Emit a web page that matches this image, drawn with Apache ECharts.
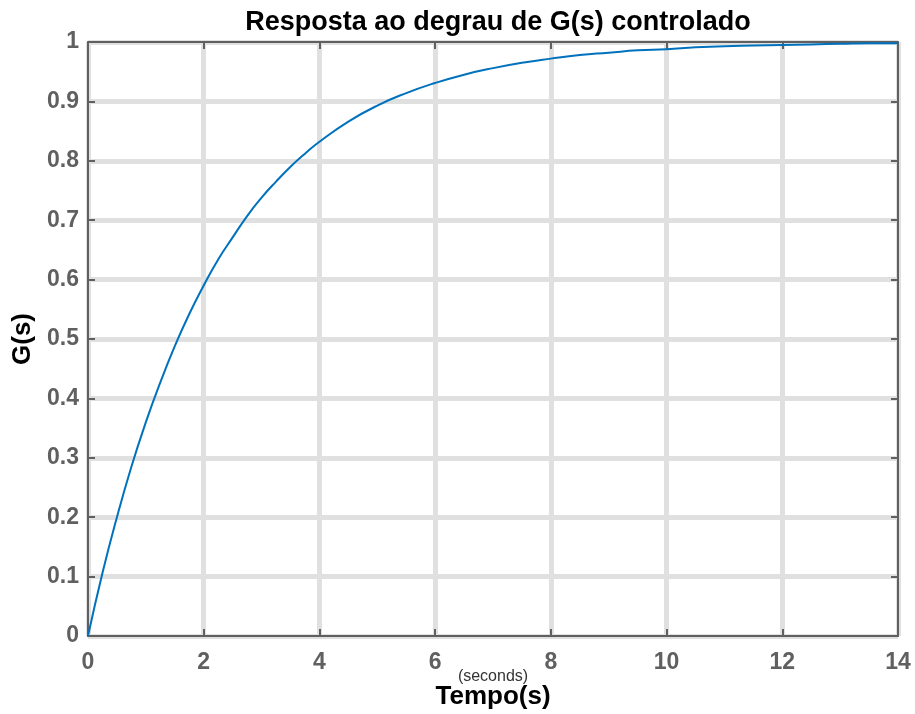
<!DOCTYPE html>
<html>
<head>
<meta charset="utf-8">
<script src="https://cdn.jsdelivr.net/npm/echarts@6/dist/echarts.min.js"></script>
<style>
  html, body { margin: 0; padding: 0; background: #fff; }
  #chart { width: 915px; height: 714px; }
</style>
</head>
<body>
<div id="chart"></div>
<script>
// Step response samples of the controlled plant
const timeSeconds = [0, 0.25, 0.5, 0.75, 1, 1.25, 1.5, 1.75, 2, 2.25, 2.5, 2.75, 3, 3.25, 3.5, 3.75, 4, 4.5, 5, 5.5, 6, 6.5, 7, 7.5, 8, 8.5, 9, 9.5, 10, 10.5, 11, 11.5, 12, 12.5, 13, 13.5, 14];
const response = [0, 0.106, 0.200, 0.285, 0.360, 0.427, 0.488, 0.542, 0.590, 0.634, 0.671, 0.707, 0.738, 0.765, 0.790, 0.812, 0.832, 0.866, 0.893, 0.914, 0.931, 0.945, 0.956, 0.965, 0.972, 0.978, 0.982, 0.986, 0.988, 0.991, 0.993, 0.994, 0.995, 0.996, 0.997, 0.998, 0.998];

const xTicks = [0, 2, 4, 6, 8, 10, 12, 14];
const yTicks = [0, 0.1, 0.2, 0.3, 0.4, 0.5, 0.6, 0.7, 0.8, 0.9, 1];

const FONT = '"Liberation Sans", Arial, Helvetica, sans-serif';
const AXIS_GRAY = '#606060';
const GRID_GRAY = '#e0e0e0';

const points = timeSeconds.map((t, i) => [t, response[i]]);

const chart = echarts.init(document.getElementById('chart'), null, { renderer: 'canvas' });

const axisCommon = {
  axisLine: { show: true, onZero: false, lineStyle: { color: AXIS_GRAY, width: 2 } },
  axisTick: { show: true, inside: true, length: 7, lineStyle: { color: AXIS_GRAY, width: 2 } },
};

chart.setOption({
  backgroundColor: '#ffffff',
  animation: false,
  title: {
    text: 'Resposta ao degrau de G(s) controlado',
    left: 493,
    textAlign: 'center',
    top: 4,
    textStyle: { fontFamily: FONT, fontSize: 27, fontWeight: 'bold', color: '#000' }
  },
  // x-axis caption: units line above the bold axis title
  graphic: [
    {
      type: 'text', x: 493, y: 677,
      style: { text: '(seconds)', fontFamily: FONT, fontSize: 16, fill: '#333', align: 'center', verticalAlign: 'middle' }
    },
    {
      type: 'text', x: 493, y: 697,
      style: { text: 'Tempo(s)', fontFamily: FONT, fontSize: 26, fontWeight: 'bold', fill: '#000', align: 'center', verticalAlign: 'middle' }
    }
  ],
  grid: { left: 88, right: 17, top: 42, bottom: 78, containLabel: false, outerBoundsMode: 'none' },
  xAxis: [
    Object.assign({
      type: 'value',
      position: 'bottom',
      min: xTicks[0],
      max: xTicks[xTicks.length - 1],
      interval: 2,
      axisLabel: { fontFamily: FONT, fontSize: 23, fontWeight: 'bold', color: AXIS_GRAY, margin: 15 },
      splitLine: { show: true, lineStyle: { color: GRID_GRAY, width: 5 } }
    }, axisCommon),
    Object.assign({
      type: 'value',
      position: 'top',
      min: xTicks[0],
      max: xTicks[xTicks.length - 1],
      interval: 2,
      axisLabel: { show: false },
      splitLine: { show: false }
    }, axisCommon)
  ],
  yAxis: [
    Object.assign({
      type: 'value',
      position: 'left',
      min: yTicks[0],
      max: yTicks[yTicks.length - 1],
      interval: 0.1,
      name: 'G(s)',
      nameLocation: 'middle',
      nameGap: 49,
      nameRotate: 90,
      nameTextStyle: { fontFamily: FONT, fontSize: 26, fontWeight: 'bold', color: '#000' },
      axisLabel: {
        fontFamily: FONT, fontSize: 23, fontWeight: 'bold', color: AXIS_GRAY, margin: 9,
        formatter: v => String(Math.round(v * 10) / 10)
      },
      splitLine: { show: true, lineStyle: { color: GRID_GRAY, width: 5 } }
    }, axisCommon),
    Object.assign({
      type: 'value',
      position: 'right',
      min: yTicks[0],
      max: yTicks[yTicks.length - 1],
      interval: 0.1,
      axisLabel: { show: false },
      splitLine: { show: false }
    }, axisCommon)
  ],
  series: [{
    type: 'line',
    data: points,
    xAxisIndex: 0,
    yAxisIndex: 0,
    smooth: 0.5,
    showSymbol: false,
    lineStyle: { color: '#0072BD', width: 2 },
    z: 5
  }]
});
</script>
</body>
</html>
